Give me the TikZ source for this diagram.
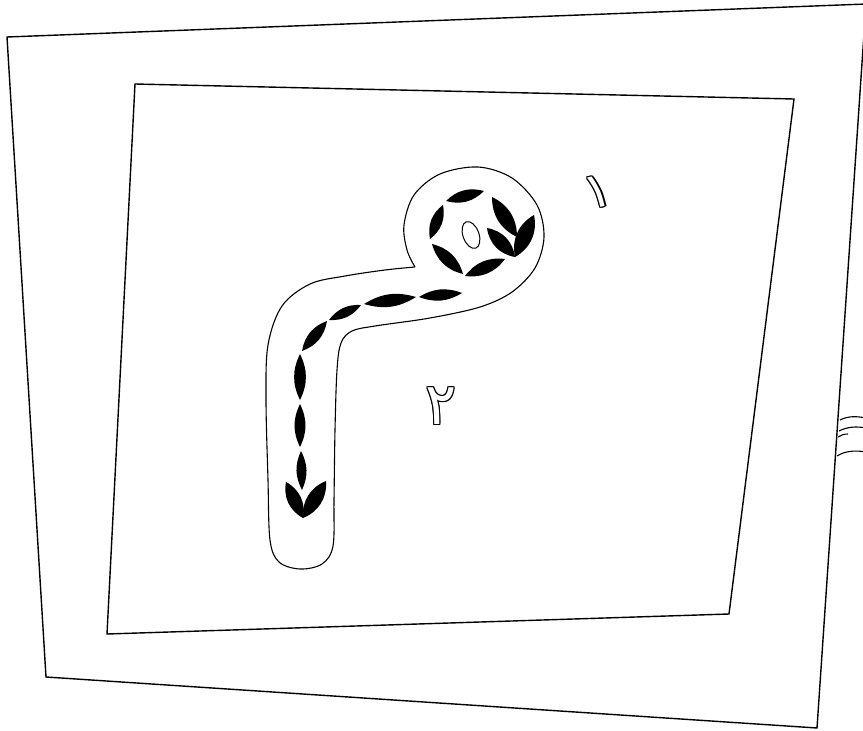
\documentclass[tikz,border=0pt]{standalone}
\usepackage{fontspec}
\newfontfamily\arabicfont[Script=Arabic]{DejaVu Sans}
\tikzset{
  frameline/.style={line width=1.4pt, line join=miter},
  letterline/.style={line width=1.1pt, line join=round},
}
\newcommand\lensshape[3]{\fill (#1) to[bend left=#3] (#2) to[bend left=#3] (#1);}
\newcommand\outlinedigit[5]{%
  \foreach \a in {0,45,...,315}{%
    \node[text=black, inner sep=0pt, rotate=#5] at ([shift={(\a:1.3pt)}]#1) {\fontsize{#2}{#2}\selectfont\arabicfont #3};}
  \node[text=white, inner sep=0pt, rotate=#5] (#4) at (#1) {\fontsize{#2}{#2}\selectfont\arabicfont #3};}
\begin{document}
\begin{tikzpicture}[x=1pt,y=-1pt]
\useasboundingbox[fill=white] (0,0) rectangle (863,731);
\begin{scope}
\clip (0,0) rectangle (863,731);
% outer frame
\draw[frameline] (866,4) -- (7,37) -- (46,677) -- (817,728) -- (866,4);
% inner frame
\draw[frameline] (135,84) -- (794,99) -- (729,614) -- (107,634) -- cycle;
% partial shapes at right edge
\draw[line width=1.1pt] (840,420) .. controls (848,416) and (856,416) .. (866,418);
\draw[line width=1.1pt] (839,431) .. controls (847,427) and (856,426) .. (866,428);
\draw[line width=1.1pt] (838,437) .. controls (841,435) and (844,434) .. (848,434);
\draw[line width=1.1pt] (837,456) .. controls (845,451) and (855,450) .. (866,452);
\end{scope}
% letter outline
\draw[letterline] plot[smooth, tension=0.55] coordinates {
 (415,267) (407,250) (404,225) (414,195) (440,174) (478,167) (512,178) (537,205)
 (544,237) (535,268) (512,292) (480,307) (430,318) (375,326) (352,331) (341,343)
 (337,370) (335,430) (334,500) (333,546) (322,564) (300,569) (279,562) (270,540)
 (268,480) (266,400) (268,345) (282,306) (310,284) (345,276) (385,270) (415,267)};
% head strokes
\lensshape{446,201}{484,191}{30}
\lensshape{492,197}{517,237}{32}
\lensshape{487,228}{515,257}{36}
\lensshape{534,215}{515,257}{36}
\lensshape{443,205}{430,239}{32}
\lensshape{432,244}{463,274}{30}
\lensshape{465,276}{505,259}{30}
\draw[line width=1pt, rotate around={20:(471,235)}] (471,235) ellipse [x radius=8, y radius=14];
% tail strokes
\lensshape{462,293}{419,297}{26}
\lensshape{416,297}{364,304}{24}
\lensshape{361,305}{329,320}{28}
\lensshape{327,321}{302,351}{30}
\lensshape{300,354}{300,400}{26}
\lensshape{300,404}{300,447}{26}
\lensshape{301,451}{302,490}{26}
\lensshape{286,482}{303,518}{36}
\lensshape{326,481}{303,518}{36}
% digits
\outlinedigit{598,192}{50}{١}{d1}{14}
\outlinedigit{441,406}{58}{٢}{d2}{0}
\end{tikzpicture}
\end{document}
